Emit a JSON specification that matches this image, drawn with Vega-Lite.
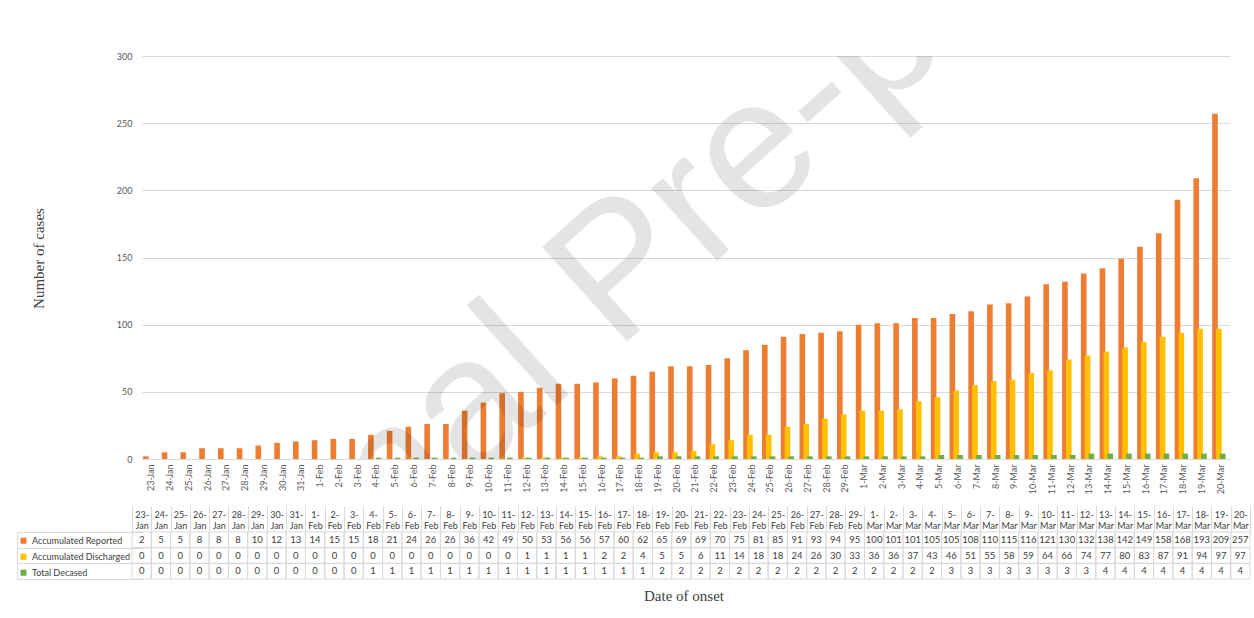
{
  "$schema": "https://vega.github.io/schema/vega-lite/v6.json",
  "autosize": "pad",
  "padding": {"left": 16, "top": 52, "right": 4, "bottom": 14},
  "bounds": "flush",
  "spacing": 73,
  "background": "white",
  "config": {"view": {"stroke": null}, "font": "Lato"},
  "datasets": {
    "cases": [
      {"date": "23-Jan", "reported": 2, "discharged": 0, "deceased": 0},
      {"date": "24-Jan", "reported": 5, "discharged": 0, "deceased": 0},
      {"date": "25-Jan", "reported": 5, "discharged": 0, "deceased": 0},
      {"date": "26-Jan", "reported": 8, "discharged": 0, "deceased": 0},
      {"date": "27-Jan", "reported": 8, "discharged": 0, "deceased": 0},
      {"date": "28-Jan", "reported": 8, "discharged": 0, "deceased": 0},
      {"date": "29-Jan", "reported": 10, "discharged": 0, "deceased": 0},
      {"date": "30-Jan", "reported": 12, "discharged": 0, "deceased": 0},
      {"date": "31-Jan", "reported": 13, "discharged": 0, "deceased": 0},
      {"date": "1-Feb", "reported": 14, "discharged": 0, "deceased": 0},
      {"date": "2-Feb", "reported": 15, "discharged": 0, "deceased": 0},
      {"date": "3-Feb", "reported": 15, "discharged": 0, "deceased": 0},
      {"date": "4-Feb", "reported": 18, "discharged": 0, "deceased": 1},
      {"date": "5-Feb", "reported": 21, "discharged": 0, "deceased": 1},
      {"date": "6-Feb", "reported": 24, "discharged": 0, "deceased": 1},
      {"date": "7-Feb", "reported": 26, "discharged": 0, "deceased": 1},
      {"date": "8-Feb", "reported": 26, "discharged": 0, "deceased": 1},
      {"date": "9-Feb", "reported": 36, "discharged": 0, "deceased": 1},
      {"date": "10-Feb", "reported": 42, "discharged": 0, "deceased": 1},
      {"date": "11-Feb", "reported": 49, "discharged": 0, "deceased": 1},
      {"date": "12-Feb", "reported": 50, "discharged": 1, "deceased": 1},
      {"date": "13-Feb", "reported": 53, "discharged": 1, "deceased": 1},
      {"date": "14-Feb", "reported": 56, "discharged": 1, "deceased": 1},
      {"date": "15-Feb", "reported": 56, "discharged": 1, "deceased": 1},
      {"date": "16-Feb", "reported": 57, "discharged": 2, "deceased": 1},
      {"date": "17-Feb", "reported": 60, "discharged": 2, "deceased": 1},
      {"date": "18-Feb", "reported": 62, "discharged": 4, "deceased": 1},
      {"date": "19-Feb", "reported": 65, "discharged": 5, "deceased": 2},
      {"date": "20-Feb", "reported": 69, "discharged": 5, "deceased": 2},
      {"date": "21-Feb", "reported": 69, "discharged": 6, "deceased": 2},
      {"date": "22-Feb", "reported": 70, "discharged": 11, "deceased": 2},
      {"date": "23-Feb", "reported": 75, "discharged": 14, "deceased": 2},
      {"date": "24-Feb", "reported": 81, "discharged": 18, "deceased": 2},
      {"date": "25-Feb", "reported": 85, "discharged": 18, "deceased": 2},
      {"date": "26-Feb", "reported": 91, "discharged": 24, "deceased": 2},
      {"date": "27-Feb", "reported": 93, "discharged": 26, "deceased": 2},
      {"date": "28-Feb", "reported": 94, "discharged": 30, "deceased": 2},
      {"date": "29-Feb", "reported": 95, "discharged": 33, "deceased": 2},
      {"date": "1-Mar", "reported": 100, "discharged": 36, "deceased": 2},
      {"date": "2-Mar", "reported": 101, "discharged": 36, "deceased": 2},
      {"date": "3-Mar", "reported": 101, "discharged": 37, "deceased": 2},
      {"date": "4-Mar", "reported": 105, "discharged": 43, "deceased": 2},
      {"date": "5-Mar", "reported": 105, "discharged": 46, "deceased": 3},
      {"date": "6-Mar", "reported": 108, "discharged": 51, "deceased": 3},
      {"date": "7-Mar", "reported": 110, "discharged": 55, "deceased": 3},
      {"date": "8-Mar", "reported": 115, "discharged": 58, "deceased": 3},
      {"date": "9-Mar", "reported": 116, "discharged": 59, "deceased": 3},
      {"date": "10-Mar", "reported": 121, "discharged": 64, "deceased": 3},
      {"date": "11-Mar", "reported": 130, "discharged": 66, "deceased": 3},
      {"date": "12-Mar", "reported": 132, "discharged": 74, "deceased": 3},
      {"date": "13-Mar", "reported": 138, "discharged": 77, "deceased": 4},
      {"date": "14-Mar", "reported": 142, "discharged": 80, "deceased": 4},
      {"date": "15-Mar", "reported": 149, "discharged": 83, "deceased": 4},
      {"date": "16-Mar", "reported": 158, "discharged": 87, "deceased": 4},
      {"date": "17-Mar", "reported": 168, "discharged": 91, "deceased": 4},
      {"date": "18-Mar", "reported": 193, "discharged": 94, "deceased": 4},
      {"date": "19-Mar", "reported": 209, "discharged": 97, "deceased": 4},
      {"date": "20-Mar", "reported": 257, "discharged": 97, "deceased": 4}
    ]
  },
  "vconcat": [
    {
      "width": 1088,
      "height": 403,
      "layer": [
        {
          "data": {"name": "cases"},
          "transform": [{"fold": ["reported", "discharged", "deceased"], "as": ["series", "value"]}],
          "mark": {"type": "bar", "width": {"band": 1.45}},
          "encoding": {
            "x": {
              "field": "date", "type": "ordinal", "sort": null,
              "scale": {"paddingInner": 0.38, "paddingOuter": 0.19},
              "axis": {"title": null, "labelAngle": -90, "labelFontSize": 9, "labelColor": "#595959", "labelPadding": 5, "ticks": false, "domainColor": "#d9d9d9", "grid": false}
            },
            "xOffset": {"field": "series", "sort": ["reported", "discharged", "deceased"]},
            "y": {
              "field": "value", "type": "quantitative",
              "scale": {"domain": [0, 300]},
              "axis": {
                "values": [0, 50, 100, 150, 200, 250, 300],
                "grid": true, "gridColor": "#d9d9d9", "domain": false, "ticks": false,
                "labelFontSize": 9, "labelColor": "#595959", "labelPadding": 10,
                "title": "Number of cases", "titleFont": "Liberation Serif", "titleFontSize": 15,
                "titleFontWeight": "normal", "titleColor": "#404040",
                "titleX": -104, "titleY": 202, "titleBaseline": "middle", "titleAlign": "center", "titleAngle": -90
              }
            },
            "color": {
              "field": "series", "type": "nominal",
              "scale": {"domain": ["reported", "discharged", "deceased"], "range": ["#ED7D31", "#FFC000", "#70AD47"]},
              "legend": {
                "orient": "none", "legendX": -123, "legendY": 477, "title": null, "padding": 0,
                "symbolType": "square", "symbolSize": 36, "symbolStrokeWidth": 0, "symbolOpacity": 1,
                "labelFontSize": 9, "labelColor": "#404040", "clipHeight": 15.7, "rowPadding": 0, "labelOffset": 4,
                "labelExpr": "datum.label == 'reported' ? 'Accumulated Reported' : datum.label == 'discharged' ? 'Accumulated Discharged' : 'Total Decased'"
              }
            }
          }
        },
        {
          "data": {"values": [{"label": "Journal Pre-proof"}]},
          "mark": {"type": "text", "angle": -42, "fontSize": 185, "font": "Liberation Sans", "fill": "#000000", "opacity": 0.1, "align": "center", "baseline": "alphabetic", "clip": true},
          "encoding": {
            "x": {"datum": "19-Feb", "type": "ordinal"},
            "y": {"datum": 108, "type": "quantitative"},
            "text": {"field": "label"}
          }
        }
      ]
    },
    {
      "width": 1108,
      "height": 47,
      "data": {"name": "cases"},
      "transform": [{"fold": ["reported", "discharged", "deceased"], "as": ["series", "value"]}],
      "title": {"text": "Date of onset", "orient": "bottom", "anchor": "middle", "frame": "group", "font": "Liberation Serif", "fontSize": 15, "fontWeight": "normal", "color": "#404040", "offset": 9, "dx": -12},
      "encoding": {
        "x": {
          "field": "date", "type": "ordinal", "sort": null,
          "scale": {"range": [-10, 1108], "paddingInner": 0, "paddingOuter": 0},
          "axis": {
            "orient": "top", "title": null, "labelAngle": 0,
            "labelExpr": "isString(datum.value) ? [split(datum.value, '-')[0] + '-', split(datum.value, '-')[1]] : ''",
            "labelFontSize": 9, "labelColor": "#404040", "labelLineHeight": 11,
            "ticks": true, "tickBand": "extent", "tickSize": 26, "tickColor": "#d9d9d9",
            "domain": false, "grid": false, "labelPadding": -13, "labelBaseline": "bottom"
          }
        },
        "y": {
          "field": "series", "type": "nominal", "sort": ["reported", "discharged", "deceased"],
          "scale": {"paddingInner": 0, "paddingOuter": 0},
          "axis": {"title": null, "labels": false, "ticks": true, "tickBand": "extent", "tickSize": -125, "offset": 125, "domain": true, "domainColor": "#d9d9d9", "tickColor": "#d9d9d9", "grid": false}
        }
      },
      "layer": [
        {"mark": {"type": "rect", "fill": "transparent", "stroke": "#d9d9d9", "strokeWidth": 1}},
        {"mark": {"type": "text", "fontSize": 9.5, "color": "#404040"}, "encoding": {"text": {"field": "value", "type": "quantitative"}}}
      ]
    }
  ],
  "resolve": {"scale": {"x": "independent"}}
}
